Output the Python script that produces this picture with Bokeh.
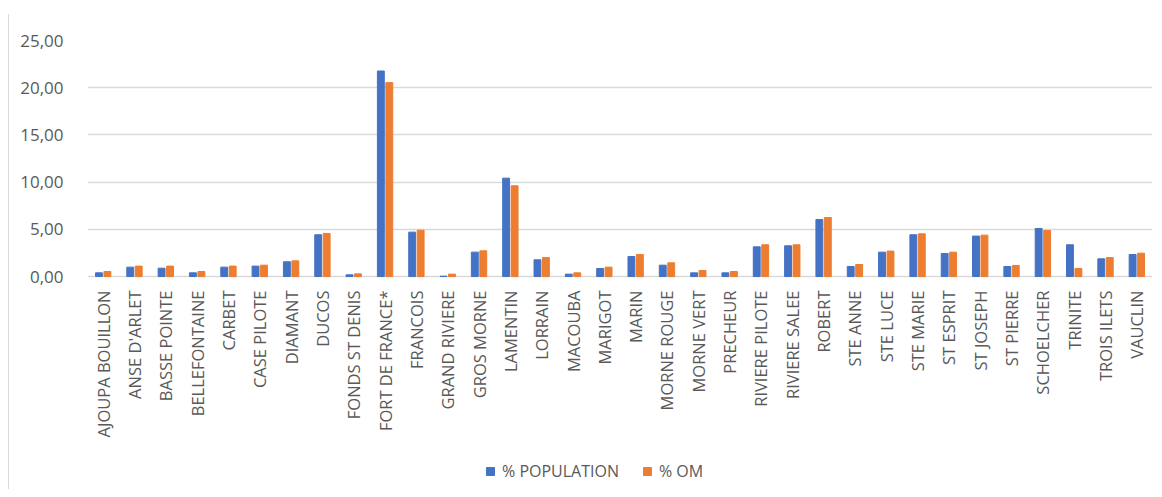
import math
from bokeh.plotting import figure
from bokeh.models import FactorRange, ColumnDataSource, Legend, LegendItem, CustomJSTickFormatter, FixedTicker, Range1d
from bokeh.transform import dodge
from bokeh.core.properties import value
from bokeh.embed import file_html
from bokeh.resources import INLINE

communes = ["AJOUPA BOUILLON", "ANSE D'ARLET", "BASSE POINTE", "BELLEFONTAINE", "CARBET",
            "CASE PILOTE", "DIAMANT", "DUCOS", "FONDS ST DENIS", "FORT DE FRANCE*",
            "FRANCOIS", "GRAND RIVIERE", "GROS MORNE", "LAMENTIN", "LORRAIN", "MACOUBA",
            "MARIGOT", "MARIN", "MORNE ROUGE", "MORNE VERT", "PRECHEUR", "RIVIERE PILOTE",
            "RIVIERE SALEE", "ROBERT", "STE ANNE", "STE LUCE", "STE MARIE", "ST ESPRIT",
            "ST JOSEPH", "ST PIERRE", "SCHOELCHER", "TRINITE", "TROIS ILETS", "VAUCLIN"]

pct_population = [0.39, 0.99, 0.88, 0.39, 0.99, 1.10, 1.56, 4.42, 0.18, 21.77,
                  4.70, 0.03, 2.58, 10.42, 1.77, 0.25, 0.85, 2.12, 1.20, 0.39,
                  0.39, 3.14, 3.25, 6.04, 1.06, 2.58, 4.42, 2.44, 4.28, 1.06,
                  5.09, 3.36, 1.87, 2.33]

pct_om = [0.53, 1.10, 1.10, 0.53, 1.10, 1.20, 1.66, 4.56, 0.28, 20.54,
          4.91, 0.25, 2.72, 9.61, 2.01, 0.39, 0.99, 2.33, 1.45, 0.64,
          0.53, 3.36, 3.36, 6.25, 1.27, 2.69, 4.52, 2.58, 4.38, 1.17,
          4.88, 0.85, 2.01, 2.47]

y_ticks = [0, 5, 10, 15, 20, 25]

# layout constants (pixels)
PLOT_H = 236          # height of the 0..25 value band
FRAME_H = 449         # frame extends below to hold category labels and legend
Y_MAX = 25
px_per_unit = PLOT_H / Y_MAX
y_min = -(FRAME_H - PLOT_H) / px_per_unit
label_gap = 14 / px_per_unit

source = ColumnDataSource(dict(commune=communes, pop=pct_population, om=pct_om,
                               ly=[-label_gap] * len(communes)))

p = figure(x_range=FactorRange(*communes, range_padding=0), y_range=Range1d(y_min, Y_MAX),
           frame_width=1065, frame_height=FRAME_H, output_backend="svg", toolbar_location=None,
           min_border_left=78, min_border_right=3, min_border_top=26, min_border_bottom=0)
p.styles = {"border-left": "1.5px solid #d9d9d9", "margin-left": "8px", "margin-top": "14px"}
p.outline_line_color = None
p.background_fill_color = "white"

r1 = p.vbar(x=dodge("commune", -0.135, range=p.x_range), top="pop", width=0.22,
            source=source, fill_color="#4472C4", line_color="#4472C4")
r2 = p.vbar(x=dodge("commune", 0.135, range=p.x_range), top="om", width=0.22,
            source=source, fill_color="#ED7D31", line_color="#ED7D31")

# category labels (vertical, below the zero line)
p.text(x="commune", y="ly", text="commune", source=source, angle=math.pi / 2,
       text_align="right", text_baseline="middle",
       text_font=value("Open Sans"), text_font_size="16.5px", text_color="#595959")

p.yaxis.ticker = FixedTicker(ticks=y_ticks)
p.yaxis.formatter = CustomJSTickFormatter(code="return tick.toFixed(2).replace('.', ',');")
p.yaxis.axis_line_color = None
p.yaxis.major_tick_line_color = None
p.yaxis.minor_tick_line_color = None
p.yaxis.major_label_standoff = 18
p.yaxis.major_label_text_font = "Open Sans"
p.yaxis.major_label_text_font_size = "17px"
p.yaxis.major_label_text_color = "#595959"

p.xaxis.visible = False
p.xgrid.grid_line_color = None
p.ygrid.grid_line_color = "#d9d9d9"
p.ygrid.grid_line_width = 1.5

legend = Legend(items=[LegendItem(label="% POPULATION", renderers=[r1]),
                       LegendItem(label="% OM", renderers=[r2])],
                orientation="horizontal", location=(398, 7),
                glyph_width=10, glyph_height=10, label_standoff=7, spacing=23,
                padding=0, margin=0, border_line_color=None, background_fill_alpha=0,
                label_text_font="Open Sans", label_text_font_size="16px",
                label_text_color="#595959")
p.add_layout(legend, "center")

open("out.html", "w").write(file_html(p, INLINE))
